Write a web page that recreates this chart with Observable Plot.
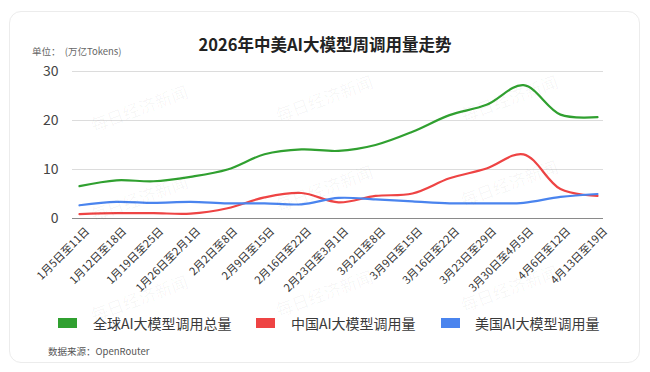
<!DOCTYPE html>
<html><head><meta charset="utf-8">
<script src="https://cdn.jsdelivr.net/npm/d3@7"></script>
<script src="https://cdn.jsdelivr.net/npm/@observablehq/plot@0.6"></script>
<style>
body{margin:0;background:#fff;font-family:"Noto Sans CJK SC","Noto Sans",sans-serif;}
#wrap{position:relative;width:650px;height:372px;overflow:hidden;}
#card{position:absolute;left:9px;top:11px;width:631px;height:352px;border:1px solid #ececec;border-radius:12px;box-sizing:border-box;}
#title{position:absolute;left:0;width:650px;top:32px;text-align:center;font-size:16.5px;font-weight:bold;color:#222;line-height:24px;}
#unit{position:absolute;left:32px;top:45px;font-size:9.5px;color:#666;line-height:12px;white-space:pre;}
#chart{position:absolute;left:0;top:60px;}
#legend{position:absolute;top:315px;left:0;width:650px;height:16px;}
.lg{position:absolute;top:0;font-size:14px;color:#3a3a3a;line-height:16px;white-space:nowrap;}
.sw{position:absolute;top:3px;width:19px;height:10px;}
#caption{position:absolute;left:48px;top:345px;font-size:9.5px;color:#555;line-height:12px;}
.wm{position:absolute;font-size:17px;color:rgba(0,0,0,0.04);transform:rotate(-20deg);white-space:nowrap;pointer-events:none;}
</style></head>
<body><div id="wrap">
<div id="card"></div>
<div id="title"></div>
<div id="unit"></div>
<div id="chart"></div>
<div id="legend"></div>
<div id="caption"></div>
</div>
<script>
const title = "2026年中美AI大模型周调用量走势";
const unitLabel = "单位：  (万亿Tokens)";
const caption = "数据来源：OpenRouter";
const weeks = ["1月5日至11日","1月12日至18日","1月19日至25日","1月26日至2月1日","2月2日至8日","2月9日至15日","2月16日至22日","2月23日至3月1日","3月2日至8日","3月9日至15日","3月16日至22日","3月23日至29日","3月30日至4月5日","4月6日至12日","4月13日至19日"];
const seriesNames = ["全球AI大模型调用总量","中国AI大模型调用量","美国AI大模型调用量"];
const seriesColors = ["#30a030","#ee4444","#4a84ee"];
const globalVals = [6.6,7.8,7.6,8.5,10.0,13.1,14.1,13.8,15.0,17.7,21.1,23.2,27.2,21.2,20.7];
const chinaVals  = [0.9,1.1,1.1,1.0,2.1,4.3,5.2,3.3,4.6,5.1,8.2,10.2,13.1,6.0,4.6];
const usVals     = [2.7,3.4,3.2,3.4,3.1,3.1,2.9,4.2,3.9,3.5,3.1,3.1,3.2,4.4,5.0];
const yTicks = [0,10,20,30];
const watermark = "每日经济新闻";

document.getElementById("title").textContent = title;
document.getElementById("unit").textContent = unitLabel;
document.getElementById("caption").textContent = caption;

const allVals = [globalVals, chinaVals, usVals];
const data = [];
seriesNames.forEach((s, k) => weeks.forEach((w, i) => data.push({week: w, value: allVals[k][i], series: s})));

const plot = Plot.plot({
  width: 650, height: 240,
  marginLeft: 72, marginRight: 47, marginTop: 11, marginBottom: 82,
  style: {fontFamily: '"Noto Sans CJK SC", sans-serif', background: "transparent"},
  x: {type: "point", domain: weeks, padding: 0},
  y: {domain: [0, 30], ticks: yTicks},
  color: {domain: seriesNames, range: seriesColors},
  marks: [
    Plot.gridY(yTicks.filter(d => d > 0), {stroke: "#dcdcdc", strokeOpacity: 1}),
    Plot.ruleY([0], {stroke: "#8a8a8a", strokeWidth: 1.2}),
    Plot.axisY(yTicks, {tickSize: 0, tickPadding: 14, fontSize: 14, fill: "#444", label: null}),
    Plot.axisX({tickSize: 0, tickRotate: -45, tickPadding: 11, dx: 8, fontSize: 11, fill: "#333", label: null}),
    Plot.line(data, {x: "week", y: "value", z: "series", stroke: "series", strokeWidth: 2.2, curve: "catmull-rom"})
  ]
});
document.getElementById("chart").appendChild(plot);

const lg = document.getElementById("legend");
const swX = [58, 256, 441];
const txX = [93, 291, 475];
seriesNames.forEach((s, k) => {
  const sw = document.createElement("div");
  sw.className = "sw"; sw.style.left = swX[k] + "px"; sw.style.background = seriesColors[k];
  lg.appendChild(sw);
  const t = document.createElement("div");
  t.className = "lg"; t.style.left = txX[k] + "px"; t.textContent = s;
  lg.appendChild(t);
});

const wrap = document.getElementById("wrap");
const wmPos = [[88,95],[273,85],[458,85],[88,185],[273,175],[458,170],[88,285],[273,280],[458,275]];
wmPos.forEach(([x, y]) => {
  const d = document.createElement("div");
  d.className = "wm"; d.style.left = x + "px"; d.style.top = y + "px"; d.textContent = watermark;
  wrap.appendChild(d);
});
</script>
</body></html>
